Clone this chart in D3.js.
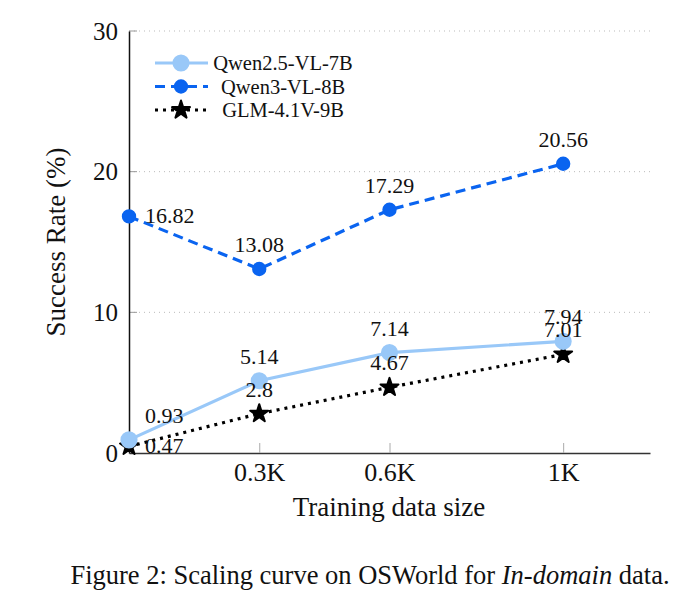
<!DOCTYPE html>
<html>
<head>
<meta charset="utf-8">
<script src="https://cdn.jsdelivr.net/npm/d3@7"></script>
<style>
  body { margin: 0; background: #fff; }
  text { font-family: "Liberation Serif", "Times New Roman", serif; fill: #111; }
</style>
</head>
<body>
<svg id="chart" width="686" height="611"></svg>
<script>
// training sizes (in K) and success rates
var sizes = [0, 0.3, 0.6, 1.0];
var tickVals = [0.3, 0.6, 1.0];
var tickNames = ["0.3K", "0.6K", "1K"];
var yTicks = [0, 10, 20, 30];

var qwen25 = [0.93, 5.14, 7.14, 7.94];
var qwen3 = [16.82, 13.08, 17.29, 20.56];
var glm = [0.47, 2.8, 4.67, 7.01];

var seriesNames = ["Qwen2.5-VL-7B", "Qwen3-VL-8B", "GLM-4.1V-9B"];

var svg = d3.select("#chart"),
  margin = {top: 31, right: 36, bottom: 158, left: 129},
  width = +svg.attr("width") - margin.left - margin.right,
  height = +svg.attr("height") - margin.top - margin.bottom,
  g = svg.append("g").attr("transform", "translate(" + margin.left + "," + margin.top + ")");

var x = d3.scaleLinear().domain([0, 1.2]).range([0, width]);
var y = d3.scaleLinear().domain([0, 30]).range([height, 0]);

// dotted grid
g.append("g")
  .selectAll("line")
  .data(yTicks.filter(function(d) { return d > 0; }))
  .enter().append("line")
  .attr("x1", 0)
  .attr("x2", width)
  .attr("y1", function(d) { return y(d); })
  .attr("y2", function(d) { return y(d); })
  .style("stroke", "#bbb")
  .style("stroke-width", 1)
  .style("stroke-dasharray", "1,4");

// small inner ticks
g.append("g")
  .selectAll("line")
  .data(yTicks.filter(function(d) { return d > 0; }))
  .enter().append("line")
  .attr("x1", 0).attr("x2", 8)
  .attr("y1", function(d) { return y(d); })
  .attr("y2", function(d) { return y(d); })
  .style("stroke", "#999");

var xAxis = d3.axisBottom(x)
  .tickValues(tickVals)
  .tickFormat(function(d, i) { return tickNames[i]; })
  .tickSizeInner(-10)
  .tickSizeOuter(0)
  .tickPadding(10);

var xg = g.append("g")
  .attr("transform", "translate(0," + height + ")")
  .call(xAxis);
xg.select(".domain").style("stroke", "#333").style("stroke-width", 1.5);
xg.selectAll(".tick line").style("stroke", "#aaa");
xg.selectAll(".tick text")
  .style("font-family", "'Liberation Serif', serif")
  .style("font-size", "26px")
  .style("fill", "#111");

var yAxis = d3.axisLeft(y)
  .tickValues(yTicks)
  .tickSize(0)
  .tickPadding(11);

var yg = g.append("g").call(yAxis);
yg.select(".domain").style("stroke", "#111").style("stroke-width", 1.5);
yg.selectAll(".tick text")
  .style("font-family", "'Liberation Serif', serif")
  .style("font-size", "25px")
  .style("fill", "#111");

// axis titles
g.append("text")
  .attr("transform", "translate(-64," + (height / 2) + ") rotate(-90)")
  .attr("text-anchor", "middle")
  .style("font-size", "27px")
  .text("Success Rate (%)");

g.append("text")
  .attr("x", 260)
  .attr("y", height + 63)
  .attr("text-anchor", "middle")
  .style("font-size", "27px")
  .text("Training data size");

var series = [
  {name: seriesNames[0], values: qwen25, color: "#99c8f8", dash: null, symbol: d3.symbolCircle, size: 180},
  {name: seriesNames[1], values: qwen3, color: "#0a64f0", dash: "10,6", symbol: d3.symbolCircle, size: 120},
  {name: seriesNames[2], values: glm, color: "#000000", dash: "3,5", symbol: d3.symbolStar, size: 100}
];

var line = d3.line()
  .x(function(d) { return x(d[0]); })
  .y(function(d) { return y(d[1]); });

// draw in reverse so light blue stays on top of the black dots
series.slice().reverse().forEach(function(s) {
  var pts = sizes.map(function(v, i) { return [v, s.values[i]]; });

  g.append("path")
    .datum(pts)
    .attr("d", line)
    .style("fill", "none")
    .style("stroke", s.color)
    .style("stroke-width", 3.2)
    .style("stroke-dasharray", s.dash);

  g.selectAll(null)
    .data(pts)
    .enter().append("path")
    .attr("transform", function(d) { return "translate(" + x(d[0]) + "," + y(d[1]) + ")"; })
    .attr("d", d3.symbol().type(s.symbol).size(s.size))
    .style("fill", s.color)
    .style("stroke", s.color)
    .style("stroke-width", 2)
    .style("stroke-linejoin", "round");
});

// value labels
series.forEach(function(s, si) {
  var pts = sizes.map(function(v, i) { return [v, s.values[i]]; });
  g.selectAll(null)
    .data(pts)
    .enter().append("text")
    .attr("x", function(d, i) { return x(d[0]) + (i == 0 ? 16 : 0); })
    .attr("y", function(d, i) {
      if (i == 0 && si != 0) return y(d[1]) + 7;
      return y(d[1]) - 17;
    })
    .attr("text-anchor", function(d, i) { return i == 0 ? "start" : "middle"; })
    .style("font-size", "22px")
    .text(function(d) { return d[1]; });
});

// legend
var legend = g.append("g").attr("transform", "translate(26,32)");
series.forEach(function(s, i) {
  var row = legend.append("g").attr("transform", "translate(0," + (i * 23.5) + ")");
  row.append("line")
    .attr("x1", 0).attr("x2", 53)
    .style("stroke", s.color)
    .style("stroke-width", 3.2)
    .style("stroke-dasharray", s.dash);
  row.append("path")
    .attr("transform", "translate(26,0)")
    .attr("d", d3.symbol().type(s.symbol).size(s.size))
    .style("fill", s.color)
    .style("stroke", s.color)
    .style("stroke-width", 2)
    .style("stroke-linejoin", "round");
  row.append("text")
    .attr("x", 128)
    .attr("y", 7)
    .attr("text-anchor", "middle")
    .style("font-size", "20.5px")
    .text(s.name);
});

// caption
var cap = svg.append("text")
  .attr("x", 370)
  .attr("y", 584)
  .attr("text-anchor", "middle")
  .style("font-size", "26.5px");
cap.append("tspan").text("Figure 2: Scaling curve on OSWorld for ");
cap.append("tspan").style("font-style", "italic").text("In-domain");
cap.append("tspan").text(" data.");
</script>
</body>
</html>
